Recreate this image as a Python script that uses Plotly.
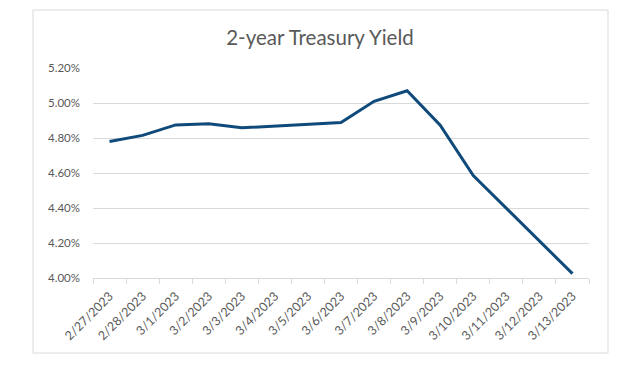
import plotly.graph_objects as go

dates = ["2/27/2023", "2/28/2023", "3/1/2023", "3/2/2023", "3/3/2023", "3/4/2023",
         "3/5/2023", "3/6/2023", "3/7/2023", "3/8/2023", "3/9/2023", "3/10/2023",
         "3/11/2023", "3/12/2023", "3/13/2023"]
yields = [4.78, 4.815, 4.875, 4.882, 4.858, None, None, 4.888, 5.01, 5.07, 4.873,
          4.585, None, None, 4.025]
y_ticks = [4.0, 4.2, 4.4, 4.6, 4.8, 5.0, 5.2]
y_tick_labels = ["4.00%", "4.20%", "4.40%", "4.60%", "4.80%", "5.00%", "5.20%"]

# page body has an 8px margin; build the figure in page coordinates minus that offset
OFF = 8
W, H = 640 - OFF, 365 - OFF
plot_left, plot_right, plot_top, plot_bottom = 93, 589, 68.3, 277.7
L = plot_left - OFF
R = W - (plot_right - OFF)
T = plot_top - OFF
B = H - (plot_bottom - OFF)
pw, ph = W - L - R, H - T - B

fig = go.Figure()
fig.add_trace(go.Scatter(
    x=dates, y=yields, mode="lines", connectgaps=True,
    line=dict(color="#0F4A7B", width=3), hoverinfo="x+y",
))

font_family = "Lato, 'Open Sans', sans-serif"
fig.update_layout(
    width=W, height=H,
    margin=dict(l=L, r=R, t=T, b=B, pad=0),
    paper_bgcolor="white", plot_bgcolor="white",
    showlegend=False,
    font=dict(family=font_family, color="#595959", size=12),
    title=dict(text="2-year Treasury Yield", x=(320 - OFF) / W, xanchor="center",
               y=1 - (37.5 - OFF) / H, yanchor="middle", yref="container",
               font=dict(size=20.5, color="#595959", family=font_family)),
    xaxis=dict(type="category", categoryorder="array", categoryarray=dates,
               range=[-0.5, len(dates) - 0.5],
               tickangle=-45, showgrid=False, showline=True, linecolor="#D9D9D9",
               linewidth=1, ticks="outside", tickson="boundaries", ticklen=5,
               tickcolor="#D9D9D9",
               tickfont=dict(size=12.5, color="#595959", family=font_family),
               ticklabelstandoff=5, zeroline=False, fixedrange=True),
    yaxis=dict(range=[4.0, 5.2], tickvals=y_ticks, ticktext=y_tick_labels,
               showgrid=True, gridcolor="#D9D9D9", gridwidth=1, zeroline=False,
               showline=False, ticks="",
               tickfont=dict(size=11.5, color="#595959", family=font_family),
               ticklabelstandoff=12, fixedrange=True),
    shapes=[dict(type="rect", xref="paper", yref="paper",
                 x0=(33 - plot_left) / pw, x1=(608 - plot_left) / pw,
                 y0=(plot_bottom - 352.5) / ph, y1=(plot_bottom - 10.5) / ph,
                 line=dict(color="#D9D9D9", width=1), fillcolor="rgba(0,0,0,0)",
                 layer="below")],
)

fig.write_html("out.html")
